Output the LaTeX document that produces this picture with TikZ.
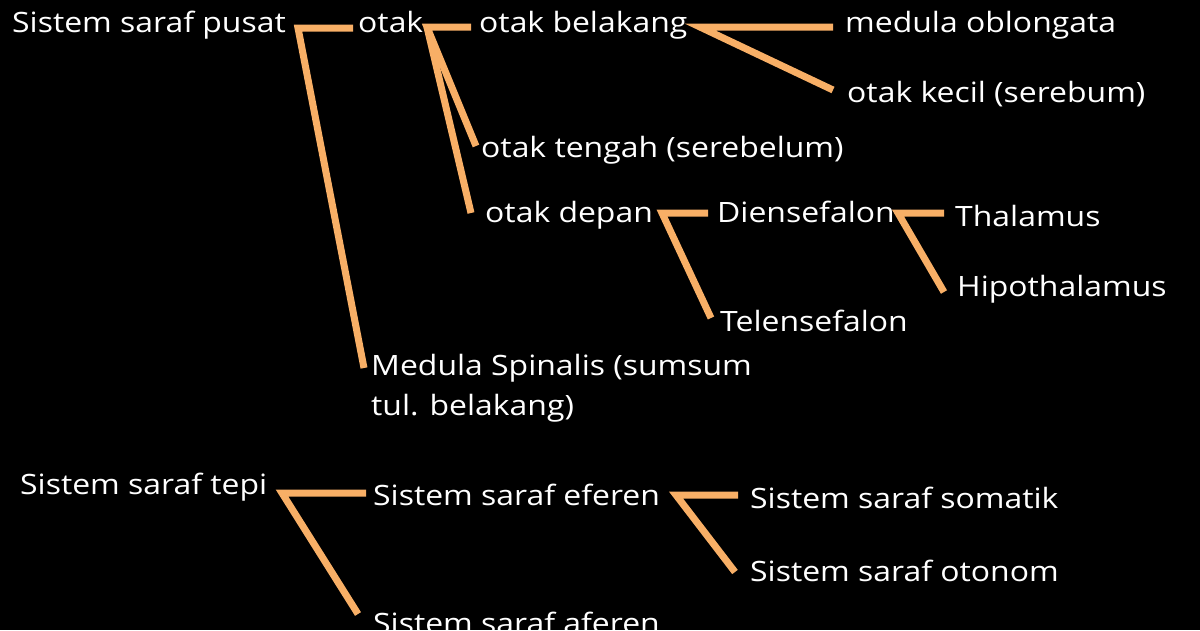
\documentclass[tikz,border=0pt]{standalone}
\usepackage{fontspec}
\setmainfont{Open Sans}[FakeStretch=1.14]
\definecolor{conn}{RGB}{248,175,102}
\begin{document}
\begin{tikzpicture}[x=1pt,y=-1pt,
  lbl/.style={anchor=base west,inner sep=0pt,text=white,font=\fontsize{28}{40}\selectfont},
  link/.style={draw=conn,line width=7pt,line cap=butt,line join=miter}]
\fill[black] (0,0) rectangle (1200,630);
\useasboundingbox (0,0) rectangle (1200,630);
% nodes
\node[lbl] (pusat) at (12,32) {Sistem saraf pusat};
\node[lbl] (otak) at (358,32) {otak};
\node[lbl] (belakang) at (479,32) {otak belakang};
\node[lbl] (medula) at (845,32) {medula oblongata};
\node[lbl] (kecil) at (847,102) {otak kecil (serebum)};
\node[lbl] (tengah) at (481,157) {otak tengah (serebelum)};
\node[lbl] (depan) at (485,222) {otak depan};
\node[lbl] (dien) at (717,222) {Diensefalon};
\node[lbl] (thal) at (955,226) {Thalamus};
\node[lbl] (hipo) at (957,296) {Hipothalamus};
\node[lbl] (telen) at (720,331) {Telensefalon};
\node[lbl,align=left,anchor=north west] (spinalis) at (371,354) {Medula Spinalis (sumsum\\tul. belakang)};
\node[lbl] (tepi) at (20,494) {Sistem saraf tepi};
\node[lbl] (eferen) at (373,505) {Sistem saraf eferen};
\node[lbl] (somatik) at (750,508) {Sistem saraf somatik};
\node[lbl] (otonom) at (750,581) {Sistem saraf otonom};
\node[lbl] (aferen) at (373,633) {Sistem saraf aferen};
% junction coordinates
\coordinate (jPusat) at (298,28);
\coordinate (ePusatA) at (353,28);
\coordinate (ePusatB) at (364,368);
\coordinate (jOtak) at (427,27);
\coordinate (eOtakA) at (471,27);
\coordinate (eOtakB) at (476,146);
\coordinate (eOtakC) at (471,213);
\coordinate (jBel) at (700,27);
\coordinate (eBelA) at (833,27);
\coordinate (eBelB) at (833,90);
\coordinate (jDep) at (662,213);
\coordinate (eDepA) at (708,213);
\coordinate (eDepB) at (711,318);
\coordinate (jDien) at (898,213);
\coordinate (eDienA) at (944,213);
\coordinate (eDienB) at (944,292);
\coordinate (jTepi) at (282,493);
\coordinate (eTepiA) at (366,493);
\coordinate (eTepiB) at (358,614);
\coordinate (jEf) at (676,495);
\coordinate (eEfA) at (738,495);
\coordinate (eEfB) at (735,572);
% connectors
\draw[link] (ePusatA) -- (jPusat) -- (ePusatB);
\draw[link] (eOtakA) -- (jOtak) -- (eOtakB);
\draw[link] (jOtak) -- (eOtakC);
\draw[link] (eBelA) -- (jBel) -- (eBelB);
\draw[link] (eDepA) -- (jDep) -- (eDepB);
\draw[link] (eDienA) -- (jDien) -- (eDienB);
\draw[link] (eTepiA) -- (jTepi) -- (eTepiB);
\draw[link] (eEfA) -- (jEf) -- (eEfB);
\end{tikzpicture}
\end{document}
